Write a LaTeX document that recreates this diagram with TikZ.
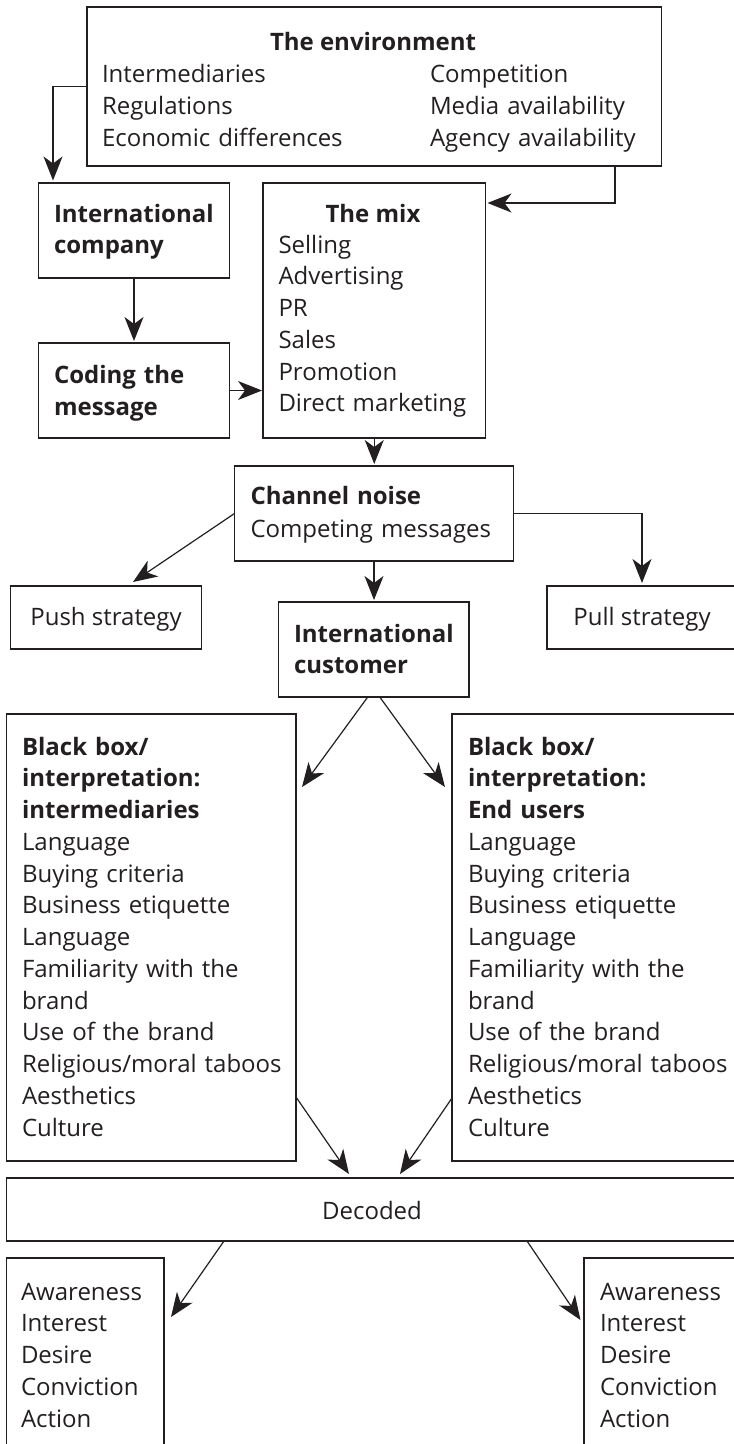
\documentclass[tikz,border=0pt]{standalone}
\usepackage{fontspec}
\setmainfont{Open Sans}
\usetikzlibrary{arrows.meta,calc}
\definecolor{ink}{HTML}{231F20}
\begin{document}
\begin{tikzpicture}[x=1pt,y=-1pt,
  box/.style={draw=ink, line width=1.5pt, rectangle, inner sep=0pt, outer sep=0pt, anchor=north west},
  txt/.style={inner sep=0pt, outer sep=0pt, anchor=base west, text width=320pt, align=left,
              text=ink, font=\fontsize{24}{31.75}\selectfont},
  ttl/.style={inner sep=0pt, outer sep=0pt, anchor=base, text=ink, font=\fontsize{24}{31.75}\selectfont\bfseries},
  lbl/.style={inner sep=0pt, outer sep=0pt, anchor=base, text=ink, font=\fontsize{24}{31.75}\selectfont},
  arr/.style={draw=ink, line width=1.2pt, -{Stealth[length=24pt,width=19pt,inset=7pt]}}]

\useasboundingbox (0,0) rectangle (734,1444);
\clip (0,0) rectangle (734,1444);

% boxes
\node[box, minimum width=574.5pt, minimum height=159pt] (env)  at (87,7) {};
\node[box, minimum width=191pt,   minimum height=95pt]  (comp) at (38.5,183) {};
\node[box, minimum width=222.5pt, minimum height=255pt] (mix)  at (263,183) {};
\node[box, minimum width=191pt,   minimum height=95pt]  (cod)  at (38.5,343) {};
\node[box, minimum width=279pt,   minimum height=95pt]  (chan) at (234.5,466) {};
\node[box, minimum width=191pt,   minimum height=63pt]  (push) at (10.5,586) {};
\node[box, minimum width=190pt,   minimum height=63pt]  (pull) at (547,586) {};
\node[box, minimum width=190.5pt, minimum height=95pt]  (cust) at (278.5,602) {};
\node[box, minimum width=289.5pt, minimum height=447pt] (bbl)  at (6.5,714) {};
\node[box, minimum width=289.5pt, minimum height=447pt] (bbr)  at (452,714) {};
\node[box, minimum width=733pt,   minimum height=63pt]  (dec)  at (6.5,1178) {};
\node[box, minimum width=157.5pt, minimum height=230pt] (awl)  at (6.5,1258) {};
\node[box, minimum width=157.5pt, minimum height=230pt] (awr)  at (584,1258) {};

% texts
\node[ttl] (envT) at (373,50) {The environment};
\node[txt, font=\fontsize{24}{32}\selectfont] (envL) at (102,82) {Intermediaries\\Regulations\\Economic differences};
\node[txt, font=\fontsize{24}{32}\selectfont] (envR) at (430,82) {Competition\\Media availability\\Agency availability};

\node[txt, font=\fontsize{24}{31}\selectfont\bfseries] (compT) at (54,222) {International\\company};
\node[ttl] (mixT) at (373,222) {The mix};
\node[txt] (mixL) at (278.5,253) {Selling\\Advertising\\PR\\Sales\\Promotion\\Direct marketing};
\node[txt, font=\fontsize{24}{32}\selectfont\bfseries] (codT) at (54,383) {Coding the\\message};

\node[txt, font=\fontsize{24}{33}\selectfont] (chanT) at (250.5,504) {\textbf{Channel noise}\\Competing messages};
\node[lbl] (pushT) at (106,625) {Push strategy};
\node[lbl] (pullT) at (642,625) {Pull strategy};
\node[txt, font=\fontsize{24}{31}\selectfont\bfseries] (custT) at (294,642) {International\\customer};

\node[txt] (bblT) at (22,755) {\textbf{Black box/}\\\textbf{interpretation:}\\\textbf{intermediaries}\\Language\\Buying criteria\\Business etiquette\\Language\\Familiarity with the\\brand\\Use of the brand\\Religious/moral taboos\\Aesthetics\\Culture};
\node[txt] (bbrT) at (468,755) {\textbf{Black box/}\\\textbf{interpretation:}\\\textbf{End users}\\Language\\Buying criteria\\Business etiquette\\Language\\Familiarity with the\\brand\\Use of the brand\\Religious/moral taboos\\Aesthetics\\Culture};

\node[lbl] (decT) at (372,1219) {Decoded};
\node[txt] (awlT) at (21,1300) {Awareness\\Interest\\Desire\\Conviction\\Action};
\node[txt] (awrT) at (600,1300) {Awareness\\Interest\\Desire\\Conviction\\Action};

% connector end points
\coordinate (c1) at ($(comp.north west)+(14.5,-2.5)$);
\coordinate (e1) at ($(env.south west)+(528,0)$);
\coordinate (m1) at ($(mix.north east)+(2,20)$);

% connectors
\draw[arr] (env.west) -| (c1);
\draw[arr] (e1) |- (m1);
\draw[arr, shorten >=2pt] (comp.south) -- (cod.north);
\draw[arr, shorten >=1pt] (cod.east) -- (cod.east -| mix.west);
\draw[arr, shorten >=2pt] (mix.south) -- (mix.south |- chan.north);
\draw[arr] (chan.west) -- ($(push.north)+(27,-4)$);
\draw[arr, shorten >=3pt] (chan.east) -| (pull.north);
\draw[arr, shorten >=2pt] (chan.south) -- (chan.south |- cust.north);
\draw[arr] ($(cust.south)+(-6,0)$) -- ($(bbl.north east)+(6,73)$);
\draw[arr] ($(cust.south)+(6,0)$) -- ($(bbr.north west)+(-7,73)$);
\draw[arr] ($(bbl.south east)+(0,-64)$) -- ($(dec.north)+(-24,-4)$);
\draw[arr] ($(bbr.south west)+(0,-63)$) -- ($(dec.north)+(27,-4)$);
\draw[arr] ($(dec.south west)+(217.5,0)$) -- ($(awl.north east)+(7,59)$);
\draw[arr] ($(dec.south west)+(520.5,0)$) -- ($(awr.north west)+(-3.5,62)$);
\end{tikzpicture}
\end{document}
